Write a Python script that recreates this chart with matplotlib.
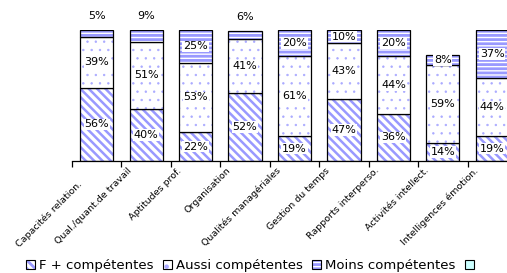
import matplotlib
matplotlib.use("Agg")
import matplotlib.pyplot as plt
from matplotlib.patches import Patch
from matplotlib.legend_handler import HandlerTuple
from matplotlib.transforms import offset_copy
import numpy as np

categories = ["Capacités relation.", "Qual./quant.de travail", "Aptitudes prof.",
              "Organisation", "Qualités managériales", "Gestion du temps",
              "Rapports interperso.", "Activités intellect.", "Intelligences émotion."]
plus_comp = [56, 40, 22, 52, 19, 47, 36, 14, 19]
aussi_comp = [39, 51, 53, 41, 61, 43, 44, 59, 44]
moins_comp = [5, 9, 25, 6, 20, 10, 20, 8, 37]
series_names = ["F + compétentes", "Aussi compétentes", "Moins compétentes", ""]

lav = "#9999FF"
plt.rcParams['font.family'] = ['DejaVu Sans']

fig = plt.figure(figsize=(5.07, 2.73), dpi=100)
ax = fig.add_axes([72/507, 1 - 161/273, 445/507, 131/273])

x = np.arange(len(categories))
w = 0.67
styles = [("\\\\\\\\", 1.8, lav), ("..", 0.5, "#AAAAFF"), ("----", 2.0, lav)]
bottom = np.zeros(len(categories))
for vals, (h, lw, hc) in zip([plus_comp, aussi_comp, moins_comp], styles):
    vals = np.array(vals, dtype=float)
    plt.rcParams['hatch.linewidth'] = lw
    ax.bar(x, vals, w, bottom=bottom, color="white", hatch=h, edgecolor=hc, linewidth=0)
    ax.bar(x, vals, w, bottom=bottom, fill=False, edgecolor="black", linewidth=0.9)
    totals = bottom + vals
    for i, v in enumerate(vals):
        if v < 10 and totals[i] >= 99:
            ax.annotate(f"{int(v)}%", (x[i], totals[i]), xytext=(0, 14),
                        textcoords="offset pixels", ha="center", va="center", fontsize=8)
        else:
            ax.text(x[i], bottom[i] + v / 2, f"{int(v)}%", ha="center", va="center", fontsize=8,
                    bbox=dict(facecolor="white", edgecolor="none", pad=0.6))
    bottom = totals

ax.set_xlim(-0.5, len(categories) - 0.5)
ax.set_ylim(0, 100)
for s in ["left", "top", "right"]:
    ax.spines[s].set_visible(False)
ax.spines["bottom"].set_linewidth(0.9)
ax.set_yticks([])
ax.set_xticks(np.arange(-0.5, len(categories), 1))
ax.set_xticklabels([])
ax.tick_params(axis="x", length=4, width=0.9, direction="out")

for i, lab in enumerate(categories):
    dy = -18 if i == 0 else -5
    tr = offset_copy(ax.get_xaxis_transform(), fig=fig, x=-19, y=dy, units="dots")
    ax.text(x[i], 0, lab, transform=tr, rotation=45, rotation_mode="anchor",
            ha="right", va="top", fontsize=6.8)

handles = []
for h, lw, hc in styles:
    plt.rcParams['hatch.linewidth'] = lw
    handles.append((Patch(facecolor="white", hatch=h, edgecolor=hc, linewidth=0),
                    Patch(fill=False, edgecolor="black", linewidth=0.8)))
handles.append(Patch(facecolor="#CCFFFF", edgecolor="black", linewidth=0.8))
fig.legend(handles, series_names, loc="center", bbox_to_anchor=(0.497, 0.026), ncol=4,
           frameon=False, fontsize=9.5, handlelength=0.7, handleheight=0.7, handletextpad=0.3,
           columnspacing=0.7, borderpad=0, handler_map={tuple: HandlerTuple(ndivide=1, pad=0)})

fig.savefig("out.png", dpi=100)
